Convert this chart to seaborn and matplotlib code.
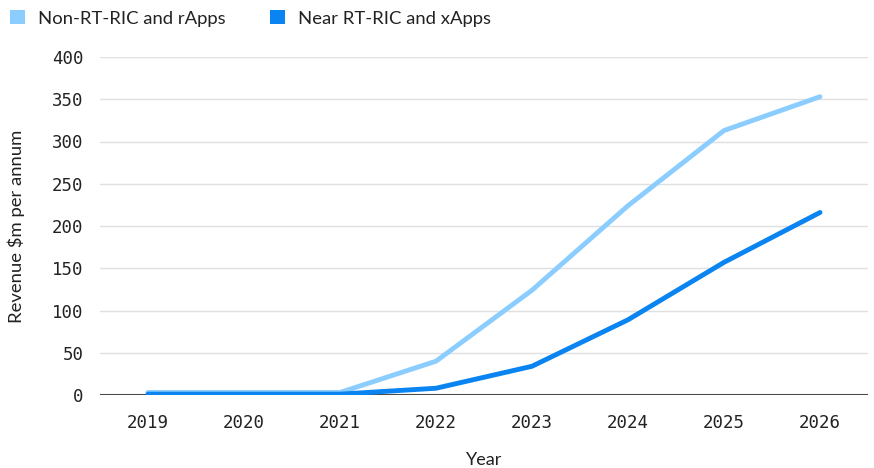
import matplotlib
matplotlib.use("Agg")
import matplotlib.pyplot as plt
import seaborn as sns
import pandas as pd
from matplotlib.patches import Patch

years = ["2019", "2020", "2021", "2022", "2023", "2024", "2025", "2026"]
non_rt = [3, 3, 3, 40, 124, 224, 313, 353]
near_rt = [1, 1, 1, 8, 34, 89, 157, 216]
series_names = ["Non-RT-RIC and rApps", "Near RT-RIC and xApps"]
colors = ["#8ccdff", "#0a84f0"]

df = pd.DataFrame({
    "Year": years * 2,
    "Revenue": non_rt + near_rt,
    "Series": [series_names[0]] * len(years) + [series_names[1]] * len(years),
})

sns.set_theme(style="white")
plt.rcParams["font.family"] = ["Lato", "DejaVu Sans"]

fig = plt.figure(figsize=(8.74, 4.68), dpi=100)
ax = fig.add_axes([100 / 874, 1 - 395 / 468, 768 / 874, 338 / 468])

sns.lineplot(data=df, x="Year", y="Revenue", hue="Series", palette=colors,
             linewidth=3.5, ax=ax, legend=False, sort=False)
for line in ax.get_lines():
    line.set_solid_capstyle("round")

ax.set_xlim(-0.5, len(years) - 0.5)
ax.set_ylim(0, 400)
ax.set_yticks(range(0, 401, 50))
ax.yaxis.grid(True, color="#e0e0e0", linewidth=1)
ax.set_axisbelow(True)
ax.axhline(0, color="#4a4a4a", linewidth=1.5, zorder=1.5)
for s in ax.spines.values():
    s.set_visible(False)
ax.tick_params(axis="both", length=0, labelsize=12.5)
for lab in ax.get_xticklabels() + ax.get_yticklabels():
    lab.set_family("DejaVu Sans Mono")
    lab.set_color("#222222")
ax.tick_params(axis="x", pad=14)
ax.tick_params(axis="y", pad=12)
ax.set_xlabel("Year", fontsize=13, color="#222222", labelpad=14)
ax.set_ylabel("Revenue $m per annum", fontsize=13.3, color="#222222", labelpad=19)

handles = [Patch(facecolor=c, edgecolor="none") for c in colors]
fig.legend(handles, series_names, loc="upper left", bbox_to_anchor=(0.0, 1.0),
           ncol=2, frameon=False, fontsize=13.3, handlelength=0.8, handleheight=0.8,
           columnspacing=2.4, handletextpad=0.72, borderaxespad=0.0, borderpad=0.55,
           labelcolor="#222222")

fig.savefig("out.png", dpi=100)
